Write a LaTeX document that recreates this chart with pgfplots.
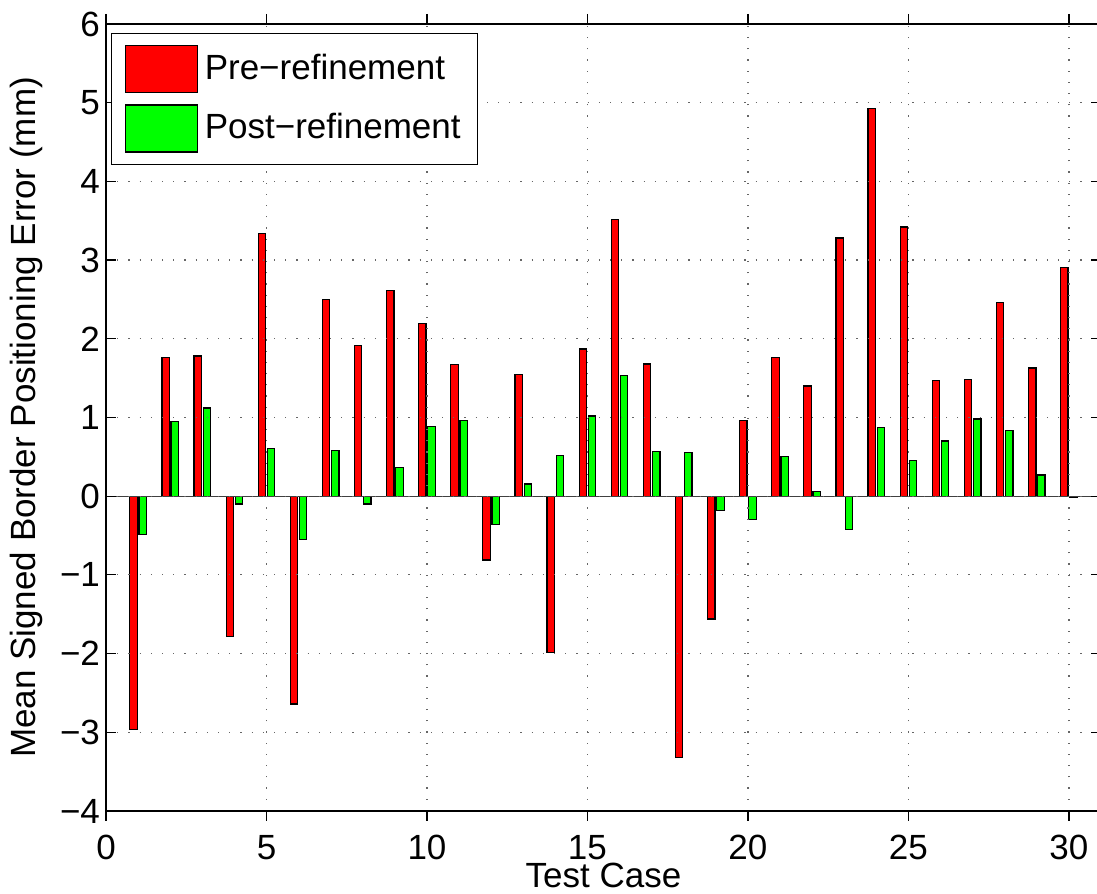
\documentclass[border=0pt]{standalone}
\usepackage{fontspec}
\setmainfont{Liberation Sans}
\usepackage{pgfplots}
\pgfplotsset{compat=1.18}
\definecolor{mred}{rgb}{1,0,0}
\definecolor{mgreen}{rgb}{0,1,0}
\begin{document}
\fontsize{17.5}{21}\selectfont
\begin{tikzpicture}
\begin{axis}[
  scale only axis,
  width=497.5pt, height=393.5pt,
  xmin=0, xmax=31, ymin=-4, ymax=6,
  xtick={0,5,...,30}, ytick={-4,-3,...,6},
  yticklabels={−4,−3,−2,−1,0,1,2,3,4,5,6},
  /pgf/number format/assume math mode=true,
  tick align=inside, major tick length=5pt,
  grid=major,
  major grid style={black!60, dash pattern=on 0.6pt off 5pt, line width=0.6pt},
  axis line style={line width=0.6pt},
  every tick/.style={line width=0.6pt, black},
  axis on top,
  ybar, bar width=0.23,
  xticklabel style={inner sep=1pt, yshift=-6pt},
  yticklabel style={xshift=3pt},
  xlabel={Test Case},
  ylabel={Mean Signed Border Positioning Error (mm)},
  xlabel style={at={(axis description cs:0.5,0)}, anchor=base, yshift=-38.5pt, inner sep=0pt},
  ylabel style={yshift=-3pt},
  legend image code/.code={\draw[#1, line width=0.6pt] (0pt,-11.75pt) rectangle (36pt,11.75pt); \path (37.5pt,0pt);},
  legend style={at={(0.005,0.989)}, anchor=north west, draw=black, line width=0.6pt, fill=white,
    row sep=5.5pt, inner xsep=6.5pt, inner ysep=6pt, cells={anchor=west}},
]
\addplot[fill=mred, draw=black, line width=0.6pt, bar shift=-0.143] coordinates {
(1,-2.96) (2,1.76) (3,1.78) (4,-1.78) (5,3.34) (6,-2.64) (7,2.50) (8,1.91) (9,2.61) (10,2.19)
(11,1.67) (12,-0.81) (13,1.55) (14,-1.99) (15,1.87) (16,3.52) (17,1.68) (18,-3.32) (19,-1.56) (20,0.96)
(21,1.76) (22,1.40) (23,3.28) (24,4.93) (25,3.42) (26,1.47) (27,1.48) (28,2.46) (29,1.63) (30,2.91)};
\addlegendentry{Pre−refinement}
\addplot[fill=mgreen, draw=black, line width=0.6pt, bar shift=0.143] coordinates {
(1,-0.49) (2,0.95) (3,1.12) (4,-0.10) (5,0.61) (6,-0.55) (7,0.58) (8,-0.10) (9,0.36) (10,0.89)
(11,0.96) (12,-0.36) (13,0.155) (14,0.52) (15,1.02) (16,1.53) (17,0.57) (18,0.56) (19,-0.18) (20,-0.30)
(21,0.50) (22,0.06) (23,-0.42) (24,0.87) (25,0.45) (26,0.70) (27,0.98) (28,0.83) (29,0.27) (30,-0.02)};
\addlegendentry{Post−refinement}
\addplot[sharp plot, black!75, line width=0.6pt, forget plot] coordinates {(0,0) (31,0)};
\end{axis}
\pgfresetboundingbox
\path ([shift={(-53pt,-41.5pt)}]current axis.south west) rectangle ([shift={(-2pt,12pt)}]current axis.north east);
\end{tikzpicture}
\end{document}
